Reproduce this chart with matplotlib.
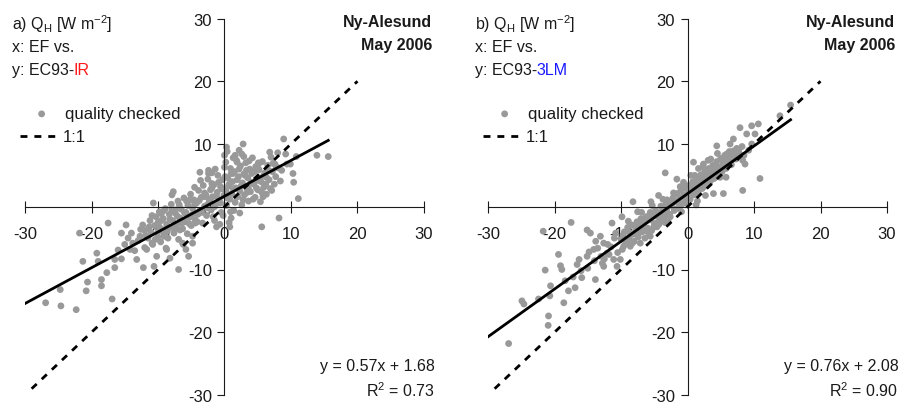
import matplotlib.pyplot as plt

plt.rcParams['font.family'] = ['Liberation Sans', 'DejaVu Sans']
plt.rcParams['mathtext.fontset'] = 'custom'
plt.rcParams['mathtext.rm'] = 'Liberation Sans'
plt.rcParams['mathtext.it'] = 'Liberation Sans:italic'
plt.rcParams['axes.unicode_minus'] = False

# panel a: EF (x) vs EC93-IR (y)
ax_a = [-26.9, -24.7, -24.6, -22.3, -21.8, -21.3, -20.6, -20.8, -19.2, -19.0, -18.5, -18.5,
        -17.5, -17.7, -16.9, -16.5, -16.5, -15.5, -14.8, -14.5, -14.2, -13.8, -13.2, -12.7,
        -12.3, -12.2, -11.7, -11.4, -10.9, -10.7, -10.6, -10.2, -9.8, -9.5, -9.1, -8.7,
        -8.2, -7.7, -7.4, -6.9, -6.7, -6.3, -5.8, -5.4, -5.2, -4.8, -4.8, -4.4, -3.7, -2.9,
        -2.4, -1.9, -1.7, -1.2, -0.4, 0.0, 0.3, 0.8, 1.3, 1.6, 1.9, 2.8, 2.9, 3.3, 3.6, 4.3,
        5.1, 5.6, 5.8, 6.3, 6.8, 7.1, 7.6, 8.2, 8.6, 8.9, 9.2, 9.4, 9.9, 10.3, 10.4, 10.8,
        11.1, 13.9, 15.6,
        -12.0, -12.0, -11.5, -11.2, -11.0, -10.8, -10.5, -10.3, -10.0, -10.0, -9.8, -9.6,
        -9.4, -9.2, -9.0, -8.9, -8.7, -8.5, -8.3, -8.1, -8.0, -7.8, -7.6, -7.4, -7.2, -7.0,
        -6.9, -6.7, -6.5, -6.3, -6.1, -6.0, -5.8, -5.6, -5.5, -5.3, -5.1, -5.0, -4.8, -4.6,
        -4.4, -4.2, -4.0, -3.9, -3.7, -3.5, -3.3, -3.2, -3.0, -2.8, -2.7, -2.5, -2.3, -2.1,
        -2.0, -1.8, -1.6, -1.5, -1.3, -1.1, -1.0, -0.8, -0.6, -0.5, -0.3, -0.1, 0.0, 0.2,
        0.3, 0.5, 0.6, 0.8, 0.9, 1.1, 1.2, 1.4, 1.5, 1.7, 1.8, 2.0, 2.1, 2.3, 2.4, 2.6, 2.7,
        2.9, 3.0, 3.2, 3.3, 3.5, 3.6, 3.8, 3.9, 4.1, 4.2, 4.4, 4.6, 4.7, 4.9, 5.0, 5.2, 5.4,
        5.5, 5.7, 5.9, 6.1, 6.3, 6.5, 6.7, 7.0, 7.2, 7.5, 7.8, 8.0, 0.4, 1.0, -0.2, 2.2,
        -1.9, -4.5, -8.8, -7.9, -6.2, 0.7,
        -11.8, -11.3, -10.9, -10.4, -9.9, -9.5, -9.1, -8.6, -8.2, -7.9, -7.5, -7.1, -6.8,
        -6.4, -6.0, -5.7, -5.3, -4.9, -4.5, -4.1, -3.8, -3.4, -3.0, -2.6, -2.2, -1.9, -1.5,
        -1.2, -0.9, -0.6, -0.2, 0.1, 0.4, 0.7, 1.0, 1.3, 1.6, 1.9, 2.2, 2.5, 2.8, 3.1, 3.4,
        3.7, 4.0, 4.3, 4.5, 4.8, 5.1, 5.3, 5.6, 5.9, 6.2, 6.6, 6.9, 7.3, 7.7, 8.1, 8.4,
        -3.6, -2.4, -1.4, 0.2, 1.3, 2.6, -0.7, 0.9, 2.3, -13.0, -12.6, -14.0, -13.5, -15.0,
        -16.0, -15.5]
ay_a = [-15.3, -13.2, -15.8, -16.4, -4.2, -8.7, -12.0, -13.4, -7.4, -8.7, -11.6, -12.6,
        -2.6, -10.5, -14.7, -8.4, -9.7, -4.2, -2.9, -5.0, -6.8, -5.8, -8.4, -4.7,
        -2.9, -9.7, -6.8, -3.4, -5.8, 0.6, -9.5, -7.9, -3.2, -1.1, -4.7, -6.8,
        -8.2, 2.4, -0.5, -10.0, -3.7, -5.8, -6.8, -7.9, 1.1, -5.8, -4.7, -2.6, 5.5, 1.6,
        5.8, 3.7, -1.6, -3.2, 2.9, 8.2, 9.5, -3.2, 5.3, 8.2, 7.1, 10.0, 8.0, 5.8, 2.9, 3.7,
        6.8, -3.2, 1.6, 4.7, 8.7, 2.6, 6.8, -1.8, 5.8, 10.8, 8.4, 6.8, 6.8, 5.3, 3.9, 8.0,
        1.3, 8.2, 8.0,
        -3.8, -6.5, -5.0, -2.2, -4.1, -6.0, -3.0, -1.6, -4.8, -2.5, -0.8, -5.6,
        -3.6, -1.9, -4.2, -0.3, -2.8, -5.0, -1.2, -3.3, 0.4, -2.2, -4.2, -1.0, -2.9, 0.9,
        -5.2, -1.8, -0.4, -3.5, 1.4, -2.4, -0.9, -4.3, 0.2, -1.7, 2.0, -3.0, -0.3, 1.1,
        -2.1, 0.6, -1.2, 2.6, -0.6, 1.5, -2.6, 3.4, 0.1, 1.9, -1.4, 4.4, 0.8, 2.7,
        -0.5, 1.6, 3.5, -2.2, 0.4, 2.3, 5.0, 1.1, 3.2, -0.9, 4.3, 1.8, 6.3, 2.6,
        0.2, 4.6, 3.3, 1.2, 6.1, 2.1, 4.0, -0.6, 5.6, 3.0, 7.4, 1.6, 4.8, 2.5, 6.5, 0.3, 3.8,
        5.2, 1.9, 7.0, 3.1, 4.6, 0.9, 6.0, 2.4, 5.3, 7.8, 3.6, 1.5, 6.4, 4.2, 2.7, 5.9, 0.8,
        4.0, 7.2, 3.1, 5.4, 2.0, 6.6, 4.3, 7.9, 5.6, 3.6, 6.3, 8.6, 8.8, -1.8, -1.4, 9.0,
        5.4, 3.1, -6.6, 1.9, -6.0, -2.5,
        -4.6, -3.2, -1.4, -5.2, -3.9, -2.2, -0.6, -3.9, -2.0, -0.5, -3.6, -1.5, 0.3,
        -2.6, -1.0, 0.9, -2.7, -1.3, 0.4, -2.4, 1.0, -0.9, 2.2, -0.2, 1.2, 3.0, 0.0,
        1.7, 3.9, 0.6, 2.8, 4.8, 1.4, 3.6, 5.3, 2.9, 0.7, 4.3, 6.0, 3.3, 1.1, 5.0, 2.3,
        7.3, 3.9, 1.2, 5.6, 3.0, 7.0, 4.5, 2.3, 5.0, 3.6, 5.8, 2.9, 6.9, 4.8, 6.2, 4.1,
        4.2, 5.3, 6.0, 7.1, 7.8, 8.4, -2.8, -0.8, -1.0, -5.4, -3.6, -4.2, -7.0, -6.0,
        -6.9, -8.3]

# panel b: EF (x) vs EC93-3LM (y)
bx_b = [-26.9, -24.9, -24.6, -22.4, -21.7, -21.4, -20.7, -20.9, -20.95, -20.6, -19.4, -19.1,
        -18.9, -18.6, -18.4, -17.5, -17.9, -16.9, -16.6, -15.9, -15.1, -14.6, -15.1, -14.1,
        -13.85, -13.1, -12.6, -12.6, -12.1, -11.35, -11.1, -10.6, -10.1, -9.85, -9.6, -8.2,
        -7.6, -7.1, -6.6, -6.1, -5.6, -4.35, -4.6, -3.35, -3.1, -1.1, -0.6, 0.9, 1.3, 1.65,
        2.4, 3.4, 3.9, 4.4, 4.9, 5.4, 5.8, 5.9, 6.4, 6.9, 6.9, 7.9, 8.3, 8.3, 8.65, 8.9,
        9.65, 9.65, 10.15, 10.65, 10.9, 13.9, 15.5,
        -10.0, -9.8, -9.5, -9.3, -9.0, -8.8, -8.6, -8.4, -8.2, -8.0, -7.8, -7.6, -7.4, -7.2,
        -7.0, -6.8, -6.6, -6.4, -6.2, -6.0, -5.8, -5.6, -5.4, -5.2, -5.0, -4.8, -4.6, -4.4,
        -4.2, -4.0, -3.8, -3.6, -3.4, -3.2, -3.0, -2.8, -2.6, -2.4, -2.2, -2.0, -1.8, -1.6,
        -1.4, -1.2, -1.0, -0.8, -0.6, -0.4, -0.2, 0.0, 0.2, 0.4, 0.6, 0.8, 1.0, 1.2, 1.4,
        1.6, 1.8, 2.0, 2.2, 2.4, 2.6, 2.8, 3.0, 3.2, 3.4, 3.6, 3.8, 4.0, 4.2, 4.4, 4.6, 4.8,
        5.0, 5.2, 5.4, 5.6, 5.8, 6.0, 6.3, 6.6, 7.0, 7.4, 7.8, 8.2, -11.5, -11.0, -10.5,
        -12.0, -13.0, -12.5, -14.0, -13.5, -15.0, -16.0, -0.9, 1.5, 2.7, -2.9, 0.5, -1.6,
        3.1, -5.5, -7.5, 4.5,
        -9.7, -9.1, -8.7, -8.3, -7.9, -7.5, -7.1, -6.7, -6.3, -5.9, -5.5, -5.1, -4.7, -4.3,
        -3.9, -3.5, -3.1, -2.7, -2.3, -1.9, -1.5, -1.1, -0.7, -0.3, 0.1, 0.5, 0.9, 1.3, 1.7,
        2.1, 2.5, 2.9, 3.3, 3.7, 4.1, 4.5, 4.9, 5.3, 5.7, 6.1, 6.5, 6.9, 7.3, 7.7, 8.5, 9.2,
        -3.7, -2.1, -0.5, 1.1, 2.3, 3.5, -6.9, -5.3, -8.9, -10.8, -11.8, -12.8, -13.8,
        -14.8, -16.3, -17.2]
by_b = [-21.8, -15.0, -15.5, -14.7, -3.9, -10.1, -14.2, -17.4, -18.9, -12.6, -7.6, -9.4,
        -10.0, -15.3, -11.8, -2.5, -13.4, -12.9, -9.2, -11.3, -3.7, -4.2, -7.9, -6.8,
        -11.6, -4.7, -5.8, -9.5, -7.4, -2.6, -8.4, -9.5, -8.4, -1.6, -6.3, 0.8,
        -3.7, -5.8, -3.7, -1.6, -4.7, 1.8, -2.6, 5.4, 1.1, 3.2, 3.9, 7.1, 0.3, 6.1,
        6.8, 5.8, 2.1, 9.7, 4.7, 2.1, 4.7, 8.4, 10.0, 10.8, 8.4, 12.6, 2.6, 7.4, 6.8, 11.6,
        12.9, 10.0, 11.6, 13.2, 4.5, 14.5, 16.2,
        -5.2, -6.8, -4.0, -5.9, -3.3, -5.0, -6.3, -2.9, -4.4, -5.5, -3.6, -2.4, -4.8, -3.1,
        -1.9, -4.0, -2.6, -5.0, -1.6, -3.4, -2.1, -0.9, -3.8, -1.5, -2.7, -0.6, -3.2, -1.2,
        -2.2, 0.1, -1.8, -0.4, -2.5, 0.5, -1.0, 0.9, -1.6, 0.2, 1.4, -0.6, 0.8, 2.1,
        -0.2, 1.3, 2.6, 0.5, 1.8, 3.0, 0.9, 2.2, 3.4, 1.2, 2.7, 4.0, 1.9, 3.1, 4.6,
        2.4, 3.7, 5.1, 2.9, 4.2, 5.6, 3.5, 4.8, 6.1, 4.0, 5.3, 6.6, 4.5, 5.8, 7.2, 5.0, 6.3,
        7.7, 5.6, 6.9, 8.2, 6.1, 7.4, 8.8, 6.7, 8.0, 9.3, 8.4, 9.6, -6.4, -5.0, -7.3,
        -6.0, -7.9, -8.3, -8.6, -6.6, -9.8, -10.2, -0.8, 0.9, 1.8, -2.4, 5.0, 4.4,
        7.4, 0.8, -0.8, 8.5,
        -4.5, -5.4, -4.1, -5.8, -3.0, -4.3, -2.6, -3.6, -2.3, -4.1, -2.0, -3.3, -1.5, -2.8,
        -0.8, -1.6, -0.3, -1.2, 0.5, -0.4, 0.9, 0.1, 1.6, 0.6, 1.6, 3.0, 2.2, 3.8, 2.8,
        4.5, 3.2, 5.0, 4.3, 5.9, 4.9, 6.4, 5.5, 7.3, 6.6, 8.0, 7.2, 8.9, 7.6, 9.0, 8.2, 9.0,
        1.2, 2.2, 3.6, 5.0, 6.3, 7.6, -0.9, 0.2, -2.3, -4.2, -7.6, -9.0, -5.5,
        -7.2, -8.4, -11.2]

panels = [
    dict(x=ax_a, y=ay_a, slope=0.57, icept=1.68, r2=0.73, tag='a)', method='IR', mcol='#ff1a1a'),
    dict(x=bx_b, y=by_b, slope=0.76, icept=2.08, r2=0.90, tag='b)', method='3LM', mcol='#1a1aff'),
]
ticks = [-30, -20, -10, 0, 10, 20, 30]
txt = '#1a1a1a'
pt_col = '#999999'

fig = plt.figure(figsize=(9.02, 4.06), dpi=100)
lefts = [25 / 902, 488 / 902]

for p, left in zip(panels, lefts):
    ax = fig.add_axes([left, 10 / 406, 399 / 902, 376.5 / 406])
    ax.set_xlim(-30, 30)
    ax.set_ylim(-30, 30)
    for s in ['top', 'right']:
        ax.spines[s].set_visible(False)
    ax.spines['left'].set_position(('data', 0))
    ax.spines['bottom'].set_position(('data', 0))
    ax.spines['left'].set_color(txt)
    ax.spines['bottom'].set_color(txt)
    ax.set_xticks(ticks)
    ax.set_yticks(ticks)
    ax.tick_params(axis='x', direction='inout', length=8, pad=10, labelsize=12, colors=txt)
    ax.tick_params(axis='y', direction='out', length=5, pad=4, labelsize=12, colors=txt)
    ax.patch.set_alpha(0)

    ax.scatter(p['x'], p['y'], s=24, color=pt_col, edgecolors='none', zorder=2)
    ax.plot([-29, 20], [-29, 20], color='black', lw=2, ls=(0, (2.5, 2.5)), zorder=3)
    xr = [-30, max(p['x'])]
    ax.plot(xr, [p['slope'] * v + p['icept'] for v in xr], color='black', lw=2, zorder=4)

    # legend drawn by hand
    ax.scatter([-27.5], [14.8], s=24, color=pt_col, edgecolors='none', clip_on=False)
    ax.text(-24.0, 14.8, 'quality checked', fontsize=12, color=txt, va='center')
    ax.plot([-30.7, -24.8], [11.2, 11.2], color='black', lw=2, ls=(0, (2.5, 2.5)), clip_on=False)
    ax.text(-24.3, 11.2, '1:1', fontsize=12, color=txt, va='center')

    ax.text(-32, 29.2, p['tag'] + ' Q$_\\mathrm{H}$ [W m$^{-2}$]', fontsize=11.5, color=txt, va='center')
    ax.text(-32, 25.5, 'x: EF vs.', fontsize=11.5, color=txt, va='center')
    t = ax.text(-32, 21.9, 'y: EC93-', fontsize=11.5, color=txt, va='center')
    ax.annotate(p['method'], xy=(1, 0.5), xycoords=t, va='center', ha='left',
                fontsize=11.5, color=p['mcol'])

    ax.text(31.2, 29.5, 'Ny-Alesund', fontsize=11.5, fontweight='bold', color=txt, ha='right', va='center')
    ax.text(31.2, 25.8, 'May 2006', fontsize=11.5, fontweight='bold', color=txt, ha='right', va='center')

    ax.text(31.7, -25.3, 'y = %.2fx + %.2f' % (p['slope'], p['icept']), fontsize=11.5,
            color=txt, ha='right', va='center')
    ax.text(31.7, -29.2, 'R$^2$ = %.2f' % p['r2'], fontsize=11.5, color=txt, ha='right', va='center')

fig.savefig('out.png', dpi=100)
